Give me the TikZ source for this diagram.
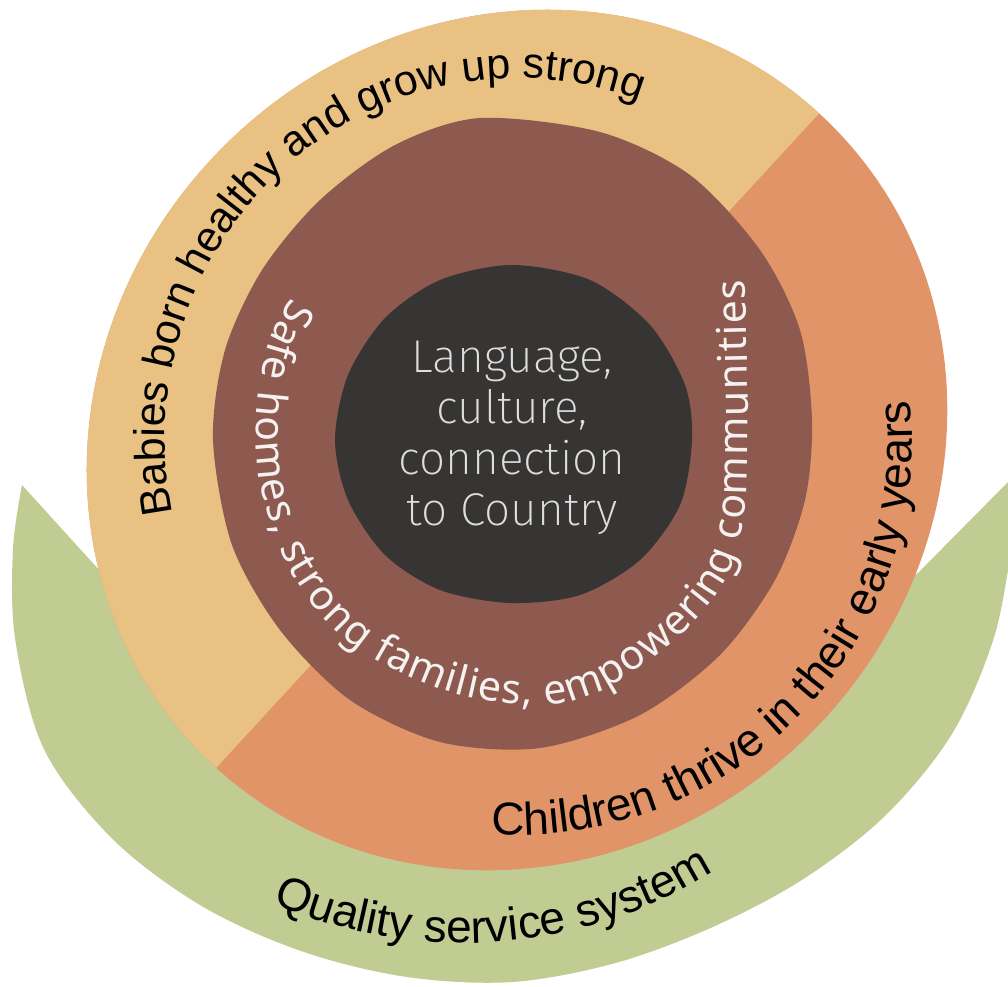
\documentclass[tikz,border=0pt]{standalone}
\usepackage{fontspec}
\setmainfont{Liberation Sans}
\newfontfamily\whitefont{Noto Sans}
\IfFontExistsTF{Fira Sans ExtraLight}{\newfontfamily\thinfont{Fira Sans ExtraLight}}{%
 \IfFontExistsTF{Fira Sans Light}{\newfontfamily\thinfont{Fira Sans Light}}{%
  \IfFontExistsTF{Lato Light}{\newfontfamily\thinfont{Lato Light}}{%
   \IfFontExistsTF{Open Sans Light}{\newfontfamily\thinfont{Open Sans Light}}{\newfontfamily\thinfont{Open Sans}}}}}
\usetikzlibrary{decorations.text}
\definecolor{ringtan}{HTML}{E9C283}
\definecolor{ringorange}{HTML}{E09468}
\definecolor{blobbrown}{HTML}{8E5A4F}
\definecolor{coredark}{HTML}{363533}
\definecolor{leafgreen}{HTML}{C1CC93}
\definecolor{coretext}{HTML}{DEDEDE}
\definecolor{bandtext}{HTML}{F4F2F1}
\tikzset{
  arclabel/.style={decorate, decoration={text along path, text align=center, text color=black}},
  bandlabel/.style={decorate, decoration={text along path, text align=fit to path, text color=bandtext}}
}
\begin{document}
\begin{tikzpicture}[x=1pt,y=-1pt]
\useasboundingbox (0,0) rectangle (1008,986);
\fill[white] (0,0) rectangle (1008,986);
% green leaf
\fill[leafgreen] plot[smooth, tension=0.55] coordinates {(22,485) (12.9,550.2) (15.5,641.3) (44.4,750) (112.9,839.3) (202.2,906.3) (302.1,951.4) (406.4,976.9) (512,982) (614.7,963.2) (711.3,927.6) (802.4,879.6) (885,815.9) (951.9,734) (994.2,636.7) (1015.2,532.9) (1040.1,449.5)}
  -- (918,573) -- (700,700) -- (300,700) -- (120,593) -- cycle;
% outer ring
\fill[ringorange] (517,440) circle[x radius=445, y radius=415, rotate=45];
\begin{scope}
\clip (517,440) circle[x radius=445, y radius=415, rotate=45];
\fill[ringtan] (1000,-83) -- (41,958) -- (-300,-300) -- cycle;
\end{scope}
% brown blob
\fill[blobbrown] plot[smooth cycle] coordinates {(480,118) (600,132) (690,175) (760,250) (800,330) (812,420) (805,500) (775,580) (720,655) (640,715) (540,748) (440,742) (350,700) (280,630) (232,545) (213,440) (225,350) (262,270) (320,200) (395,145)};
% dark core
\fill[coredark] plot[smooth cycle] coordinates {(512,265) (590,280) (650,325) (685,385) (692,440) (680,505) (640,560) (580,595) (510,603) (440,590) (385,555) (348,500) (335,440) (348,375) (385,318) (440,280)};
\node[name=core, text=coretext, align=center, font=\thinfont\fontsize{46}{51}\selectfont] at (512,438) {Language,\\culture,\\connection\\to Country};
% curved labels
\path[arclabel, decoration={text={|\fontsize{43}{50}\selectfont|Babies born healthy and grow up strong}}]
  (517,440) ++(-230:352 and 362) arc[start angle=-230, end angle=-31, x radius=352, y radius=362];
\path[arclabel, decoration={text={|\fontsize{46}{52}\selectfont|Children thrive in their early years}}]
  (517,440) ++(-260:395) arc[start angle=-260, end angle=-372, radius=395];
\path[arclabel, decoration={text={|\fontsize{46}{52}\selectfont|Quality service system}}]
  (464,469) ++(-240:474) arc[start angle=-240, end angle=-308, radius=474];
\path[bandlabel, decoration={text={|\whitefont\fontsize{41}{48}\selectfont|Safe homes, strong families, empowering communities}}]
  plot[smooth, tension=0.6] coordinates {(292,298) (268,345) (257,410) (258,470) (270,520) (290,570) (330,625) (380,662) (450,692) (527,705) (590,695) (650,660) (700,615) (730,570) (745,510) (748,440) (747,360) (745,280)};
\end{tikzpicture}
\end{document}
